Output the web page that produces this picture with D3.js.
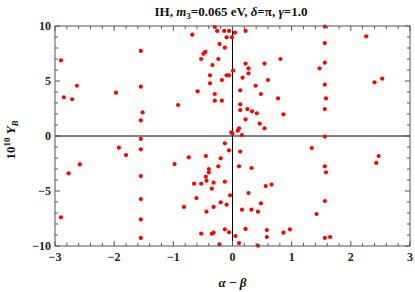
<!DOCTYPE html>
<html><head><meta charset="utf-8">
<script src="https://cdn.jsdelivr.net/npm/d3@7"></script>
<style>body{margin:0;background:#fff}svg{display:block}</style>
</head><body>
<script>
const xTicks = [-3,-2,-1,0,1,2,3];
const yTicks = [-10,-5,0,5,10];
const xVals = [-2.90,-2.85,-2.71,-2.63,-1.97,-1.55,-1.55,-1.52,-1.55,
 -0.30,-0.26,-0.14,-0.06,0.04,0.22,-0.68,-0.10,-0.01,-0.22,-0.13,-0.46,-0.49,-0.53,-0.24,0.81,-0.34,0.22,0.54,0.27,0.01,0.27,-0.38,-0.10,-0.06,0.17,-0.18,0.60,-0.38,0.39,-0.59,0.13,-0.30,0.48,0.77,-0.30,-0.18,-0.92,0.13,0.13,0.25,0.33,0.41,0.86,0.22,0.46,0.54,0.11,0.09,-0.02,0.00,0.16,
 1.56,2.26,1.56,1.56,1.47,2.53,2.40,1.56,1.58,1.56,1.56,
 -1.55,-1.92,-1.55,-1.80,-2.58,-2.77,-1.55,-1.55,-2.90,-1.55,-1.55,
 -0.13,-0.06,0.13,-0.74,-0.45,-0.20,-0.98,-0.24,0.11,0.32,-0.40,-0.40,-0.45,-0.44,-0.13,-0.65,-0.53,-0.32,-0.35,0.56,0.66,0.27,-0.04,-0.61,-0.20,-0.10,0.48,-0.82,-0.32,-0.44,0.16,0.32,0.43,-0.13,0.22,0.58,0.97,-0.06,-0.53,-0.35,-0.32,0.86,0.58,0.05,0.11,-0.22,0.43,
 1.34,2.47,2.43,1.56,1.58,1.56,1.42,1.56,1.65];
const yVals = [6.88,3.52,3.34,4.57,3.94,7.73,4.48,2.15,1.42,
 9.91,9.55,9.55,9.55,9.39,9.55,9.21,8.97,8.97,8.36,8.03,7.64,7.48,7.00,7.00,7.00,6.45,6.58,6.58,6.15,5.94,5.70,5.52,5.52,5.52,5.30,5.09,5.09,4.79,4.57,4.06,4.15,3.82,3.82,3.42,3.21,3.21,2.82,2.88,2.36,2.45,2.24,2.06,1.97,1.52,1.12,0.70,0.70,0.48,0.33,0.21,0.09,
 9.95,9.06,8.45,6.67,6.15,5.21,4.88,4.67,3.42,2.45,-0.05,
 -0.27,-1.06,-1.21,-1.73,-2.58,-3.39,-3.64,-5.73,-7.39,-7.58,-9.27,
 -0.67,-1.30,-1.42,-1.94,-1.82,-2.03,-2.55,-2.76,-2.76,-2.91,-3.00,-3.30,-3.70,-4.06,-4.15,-4.33,-4.33,-4.24,-4.79,-4.55,-4.42,-5.18,-5.39,-5.64,-6.03,-6.24,-6.12,-6.45,-6.45,-6.88,-6.70,-6.70,-6.88,-8.48,-8.45,-8.55,-8.48,-8.76,-8.88,-8.88,-8.79,-8.79,-9.18,-9.09,-9.73,-9.85,-9.97,
 -1.09,-1.82,-2.45,-2.76,-3.30,-5.91,-7.09,-9.27,-9.18];

const W=415,H=292;
const svg=d3.select("body").append("svg").attr("width",W).attr("height",H);
const L=55,R=410,T=26,B=246;
const x=d3.scaleLinear().domain([-3,3]).range([L,R]);
const y=d3.scaleLinear().domain([-10,10]).range([B,T]);
const frameCol="#555";

// zero axes
svg.append("line").attr("x1",x(0)).attr("x2",x(0)).attr("y1",T).attr("y2",B).attr("stroke","#000").attr("stroke-width",1);
svg.append("line").attr("x1",L).attr("x2",R).attr("y1",y(0)).attr("y2",y(0)).attr("stroke","#000").attr("stroke-width",1);

// points
svg.append("g").selectAll("circle").data(xVals.map((d,i)=>[d,yVals[i]])).join("circle")
 .attr("cx",d=>x(d[0])).attr("cy",d=>y(d[1])).attr("r",2.1).attr("fill","#f00");

// frame
svg.append("rect").attr("x",L).attr("y",T).attr("width",R-L).attr("height",B-T)
 .attr("fill","none").attr("stroke",frameCol).attr("stroke-width",1);

const xMinor=d3.range(-3,3.001,0.2).filter(v=>Math.abs(v-Math.round(v))>1e-6);
const yMinor=d3.range(-10,10.001,1).filter(v=>v%5!==0);
const tg=svg.append("g").attr("stroke",frameCol).attr("stroke-width",1);
function xt(vals,len){vals.forEach(v=>{
  tg.append("line").attr("x1",x(v)).attr("x2",x(v)).attr("y1",B).attr("y2",B-len);
  tg.append("line").attr("x1",x(v)).attr("x2",x(v)).attr("y1",T).attr("y2",T+len);});}
function yt(vals,len){vals.forEach(v=>{
  tg.append("line").attr("y1",y(v)).attr("y2",y(v)).attr("x1",L).attr("x2",L+len);
  tg.append("line").attr("y1",y(v)).attr("y2",y(v)).attr("x1",R).attr("x2",R-len);});}
xt(xTicks,5);xt(xMinor,3);yt(yTicks,5);yt(yMinor,3);

const font="'Liberation Serif','Times New Roman',serif";
const fmt=v=>v<0?"\u2212"+(-v):String(v);
svg.append("g").selectAll("text").data(xTicks).join("text")
 .attr("x",d=>x(d)).attr("y",B+15).attr("text-anchor","middle")
 .attr("font-family",font).attr("font-weight","bold").attr("font-size",12).attr("fill","#222")
 .text(fmt);
svg.append("g").selectAll("text").data(yTicks).join("text")
 .attr("x",L-4).attr("y",d=>y(d)+4).attr("text-anchor","end")
 .attr("font-family",font).attr("font-weight","bold").attr("font-size",12).attr("fill","#222")
 .text(fmt);

// title
const t=svg.append("text").attr("x",231).attr("y",16).attr("text-anchor","middle")
 .attr("font-family",font).attr("font-weight","bold").attr("font-size",13).attr("fill","#111");
t.append("tspan").text("IH, ");
t.append("tspan").attr("font-style","italic").text("m");
t.append("tspan").attr("font-size",9).attr("dy",3).text("3");
t.append("tspan").attr("dy",-3).text("=0.065 eV, ");
t.append("tspan").attr("font-style","italic").text("\u03b4");
t.append("tspan").text("=\u03c0, ");
t.append("tspan").attr("font-style","italic").text("\u03b3");
t.append("tspan").text("=1.0");

// x label
const xl=svg.append("text").attr("x",x(0)).attr("y",287).attr("text-anchor","middle")
 .attr("font-family",font).attr("font-weight","bold").attr("font-size",13).attr("fill","#111");
xl.append("tspan").attr("font-style","italic").text("\u03b1");
xl.append("tspan").text(" \u2212 ");
xl.append("tspan").attr("font-style","italic").text("\u03b2");

// y label
const yl=svg.append("text").attr("transform",`translate(15,${y(0)+4}) rotate(-90)`).attr("text-anchor","middle")
 .attr("font-family",font).attr("font-weight","bold").attr("font-size",13).attr("fill","#111");
yl.append("tspan").text("10");
yl.append("tspan").attr("font-size",9).attr("dy",-5).text("10");
yl.append("tspan").attr("dy",5).text(" ");
yl.append("tspan").attr("font-style","italic").text("Y");
yl.append("tspan").attr("font-style","italic").attr("font-size",9).attr("dy",3).text("B");
</script>
</body></html>
